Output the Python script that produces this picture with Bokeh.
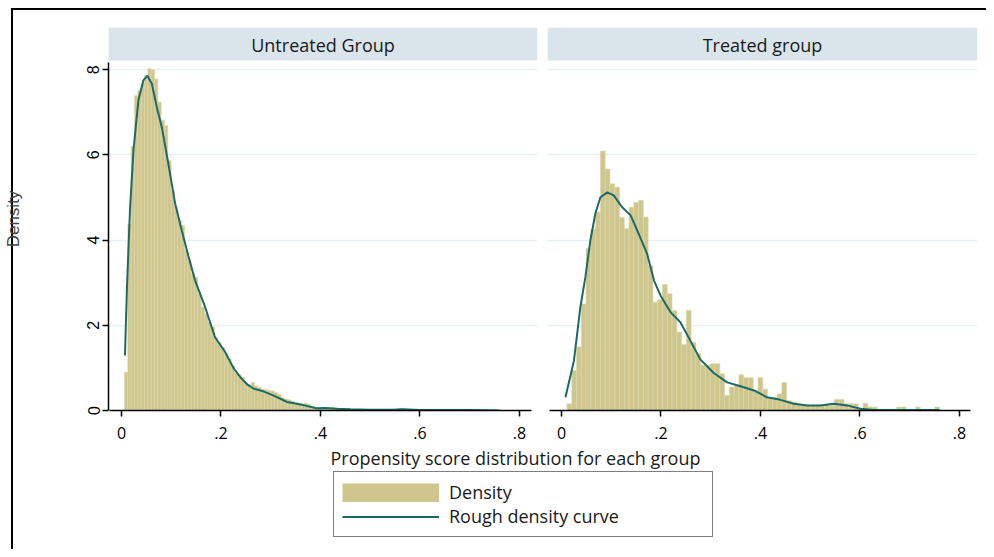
import numpy as np
from bokeh.plotting import figure
from bokeh.models import (Range1d, FixedTicker, Legend, LegendItem, Label, Div,
                          Grid, CustomJSTickFormatter)
from bokeh.layouts import row, column
from bokeh.core.properties import value
from bokeh.embed import file_html
from bokeh.resources import INLINE

# ---------------- data ----------------
groups = ["Untreated Group", "Treated group"]
x_ticks = [0, 0.2, 0.4, 0.6, 0.8]
y_ticks = [0, 2, 4, 6, 8]
x_title = "Propensity score distribution for each group"
y_title = "Density"
legend_labels = ["Density", "Rough density curve"]

untreated_bin_start = 0.006
untreated_bin_width = 0.0067
untreated_density = [
    0.90, 4.38, 6.20, 7.39, 7.51, 7.67, 7.86, 8.02, 8.00, 7.78,
    7.24, 6.81, 6.69, 5.87, 5.16, 4.77, 4.46, 4.34, 3.76, 3.52,
    3.21, 3.13, 2.74, 2.43, 2.27, 2.07, 1.96, 1.72, 1.60, 1.49,
    1.34, 1.22, 1.05, 0.88, 0.84, 0.78, 0.66, 0.60, 0.66, 0.58,
    0.54, 0.50, 0.49, 0.47, 0.46, 0.42, 0.38, 0.30, 0.27, 0.25,
    0.22, 0.18, 0.17, 0.16, 0.17, 0.14, 0.10, 0.06, 0.04, 0.03,
    0.04, 0.07, 0.08, 0.07, 0.04, 0.03, 0.03, 0.02, 0.03, 0.02,
    0.02, 0.03, 0.02, 0.02, 0.01, 0.02, 0.01, 0.02, 0.01, 0.02,
    0.03, 0.04, 0.05, 0.04, 0.03, 0.02, 0.01, 0.02, 0.01, 0.01,
    0.01, 0.02, 0.01, 0.01, 0.00, 0.01, 0.01, 0.00, 0.01, 0.00,
    0.01, 0.01, 0.00, 0.01, 0.00, 0.01, 0.00, 0.00, 0.01, 0.00,
    0.00, 0.01, 0.01,
]
untreated_curve_x = [0.007, 0.011, 0.017, 0.024, 0.034, 0.044, 0.052, 0.061, 0.071, 0.081,
                     0.094, 0.108, 0.121, 0.135, 0.148, 0.168, 0.188, 0.208, 0.225, 0.239,
                     0.252, 0.266, 0.285, 0.306, 0.333, 0.36, 0.393, 0.41, 0.43, 0.46,
                     0.5, 0.55, 0.565, 0.6, 0.65, 0.7, 0.76]
untreated_curve_y = [1.29, 2.9, 4.7, 6.1, 7.28, 7.75, 7.86, 7.67, 7.12, 6.65,
                     5.8, 4.85, 4.23, 3.6, 3.05, 2.43, 1.72, 1.38, 1.0, 0.78,
                     0.62, 0.51, 0.45, 0.35, 0.2, 0.14, 0.05, 0.06, 0.04, 0.03,
                     0.02, 0.02, 0.03, 0.01, 0.01, 0.01, 0.0]

treated_bin_start = 0.011
treated_bin_width = 0.0096
treated_density = [
    0.16, 0.94, 1.49, 2.50, 3.80, 4.25, 4.66, 6.09, 5.67, 5.32,
    5.24, 4.53, 4.27, 4.77, 4.88, 4.93, 4.54, 3.40, 2.54, 2.60,
    2.96, 2.74, 2.35, 1.84, 1.55, 2.35, 1.60, 1.34, 1.06, 1.06,
    1.10, 1.10, 0.86, 0.35, 0.55, 0.60, 0.84, 0.77, 0.77, 0.47,
    0.77, 0.50, 0.28, 0.31, 0.39, 0.66, 0.23, 0.20, 0.16, 0.12,
    0.13, 0.12, 0.13, 0.12, 0.13, 0.12, 0.26, 0.26, 0.16, 0.16,
    0.16, 0.04, 0.17, 0.08, 0.08, 0.02, 0.02, 0.02, 0.02, 0.08,
    0.08, 0.00, 0.00, 0.08, 0.01, 0.01, 0.01, 0.08,
]
treated_curve_x = [0.008, 0.025, 0.038, 0.048, 0.058, 0.068, 0.078, 0.092, 0.105, 0.122,
                   0.139, 0.155, 0.172, 0.186, 0.199, 0.219, 0.239, 0.259, 0.279, 0.306,
                   0.333, 0.36, 0.387, 0.413, 0.44, 0.467, 0.494, 0.52, 0.547, 0.574,
                   0.601, 0.628, 0.68, 0.76]
treated_curve_y = [0.31, 1.17, 2.43, 3.13, 3.99, 4.62, 5.0, 5.12, 5.05, 4.77,
                   4.58, 4.15, 3.68, 3.05, 2.7, 2.31, 2.07, 1.64, 1.2, 0.88,
                   0.66, 0.57, 0.47, 0.31, 0.25, 0.16, 0.12, 0.12, 0.16, 0.12,
                   0.04, 0.01, 0.01, 0.01]

# ---------------- style ----------------
BAR = "#cec68c"
BAR_EDGE = "#dcd6a9"
CURVE = "#1d6a64"
STRIP = "#d9e5eb"
GRID = "#e6eff1"
FONT = "Open Sans"
AXFONT = "Liberation Sans"

X_END = 0.8362          # right end of each panel frame (data units)
Y_PLOT_TOP = 8.216      # top of plotting region / bottom of strip
Y_STRIP_TOP = 8.99      # top of strip
TOP_H = 435
BORDER_L, BORDER_R = 11, 13   # outer graph-region border (screen px)
BORDER_CSS = ("linear-gradient(to right, #ffffff 0px, #ffffff %dpx, #000000 %dpx, "
              "#000000 %dpx, #ffffff %dpx)" % (BORDER_L, BORDER_L, BORDER_R, BORDER_R))


def make_panel(title, bin_start, bin_width, dens, cx, cy, left_axis,
               fig_w, mb_left, mb_right, x_start, axis_end):
    p = figure(width=fig_w, height=TOP_H, title=None,
               x_range=Range1d(x_start, X_END), y_range=Range1d(0, Y_STRIP_TOP),
               y_axis_location="left" if left_axis else None,
               output_backend="svg", toolbar_location=None, tools="",
               min_border_left=mb_left, min_border_right=mb_right,
               min_border_top=17, min_border_bottom=35)
    p.outline_line_color = None
    p.background_fill_color = "white"
    p.border_fill_color = "white"
    p.xgrid.visible = False
    p.ygrid.visible = False
    p.add_layout(Grid(dimension=1, ticker=FixedTicker(ticks=y_ticks),
                      grid_line_color=GRID, grid_line_width=1.5))

    # strip header
    p.quad(left=[x_start], right=[X_END], bottom=[Y_PLOT_TOP], top=[Y_STRIP_TOP],
           fill_color=STRIP, line_color=None)
    p.text(x=[(x_start + X_END) / 2], y=[(Y_PLOT_TOP + Y_STRIP_TOP) / 2 - 0.02],
           text=[title], text_align="center", text_baseline="middle",
           text_font=value(FONT), text_font_size="18px", text_color="#1a1a1a")

    d = np.array(dens, dtype=float)
    left = bin_start + bin_width * np.arange(len(d))
    p.quad(left=left, right=left + bin_width, bottom=0, top=d,
           fill_color=BAR, line_color=BAR_EDGE, line_width=0.6)
    p.line(cx, cy, line_color=CURVE, line_width=2)

    xa = p.xaxis[0]
    xa.ticker = FixedTicker(ticks=x_ticks)
    xa.formatter = CustomJSTickFormatter(
        code="return tick == 0 ? '0' : tick.toFixed(1).replace(/^0/, '');")
    xa.bounds = (-0.024, axis_end)
    xa.axis_line_width = 1.5
    xa.axis_line_color = "black"
    xa.major_tick_line_width = 1.5
    xa.major_tick_out = 6
    xa.major_tick_in = 0
    xa.minor_tick_out = 0
    xa.minor_tick_in = 0
    xa.major_label_standoff = 10
    xa.major_label_text_font = FONT
    xa.major_label_text_font_size = "16px"
    xa.major_label_text_color = "black"

    if left_axis:
        ya = p.yaxis[0]
        ya.ticker = FixedTicker(ticks=y_ticks)
        ya.bounds = (0, 8.17)
        ya.axis_line_width = 1.5
        ya.major_tick_line_width = 1.5
        ya.major_tick_out = 6
        ya.major_tick_in = 0
        ya.minor_tick_out = 0
        ya.minor_tick_in = 0
        ya.major_label_orientation = "vertical"
        ya.major_label_standoff = 3
        ya.major_label_text_font = AXFONT
        ya.major_label_text_font_size = "16px"
        ya.major_label_text_color = "black"
        ya.axis_label = y_title
        ya.axis_label_text_font = AXFONT
        ya.axis_label_text_font_style = "normal"
        ya.axis_label_text_font_size = "17px"
        ya.axis_label_standoff = 62
        # transparent margin so the outer border (CSS background) shows through
        p.border_fill_color = None
    return p


pL = make_panel(groups[0], untreated_bin_start, untreated_bin_width, untreated_density,
                untreated_curve_x, untreated_curve_y, True, 540, 108, 3,
                (108 - 121) / 497.5, 0.824)
pR = make_panel(groups[1], treated_bin_start, treated_bin_width, treated_density,
                treated_curve_x, treated_curve_y, False, 446, 7, 9,
                (547 - 561) / 497.5, 0.822)

# bottom: x-title and legend
BW, BH = 986, 104
pB = figure(width=BW, height=BH, title=None, x_range=Range1d(0, BW), y_range=Range1d(0, BH),
            x_axis_location=None, y_axis_location=None, output_backend="svg",
            toolbar_location=None, tools="", min_border=0)
pB.outline_line_color = None
pB.background_fill_color = None
pB.border_fill_color = None
pB.xgrid.visible = False
pB.ygrid.visible = False
# legend sample renderers (kept outside the visible range)
rb = pB.line(x=[-30, -20], y=[-30, -30], line_color=BAR, line_width=19, line_cap="butt")
rl = pB.line(x=[-30, -20], y=[-30, -30], line_color=CURVE, line_width=2)
pB.add_layout(Label(x=515, y=BH, text=x_title, text_align="center",
                    text_baseline="top", text_font=FONT, text_font_size="18px",
                    text_color="#1a1a1a"))
leg = Legend(items=[LegendItem(label=legend_labels[0], renderers=[rb]),
                    LegendItem(label=legend_labels[1], renderers=[rl])],
             location=(333, 12), margin=0, padding=8, spacing=0,
             glyph_width=97, glyph_height=19, label_height=20, label_width=255,
             label_standoff=10, label_text_font=FONT, label_text_font_size="18px",
             label_text_color="#1a1a1a", border_line_color="black",
             border_line_width=1.5, background_fill_color="white",
             background_fill_alpha=1.0)
pB.add_layout(leg)

top_border = Div(width=986 - BORDER_L, height=2, margin=(0, 0, 0, BORDER_L),
                 styles={"background-color": "black"})
root = column(Div(width=986, height=8, margin=(0, 0, 0, 0),
                  styles={"background-color": "white"}),
              top_border,
              row(pL, pR, spacing=0),
              pB, spacing=0, styles={"background": BORDER_CSS})

open("out.html", "w").write(file_html(root, INLINE))
